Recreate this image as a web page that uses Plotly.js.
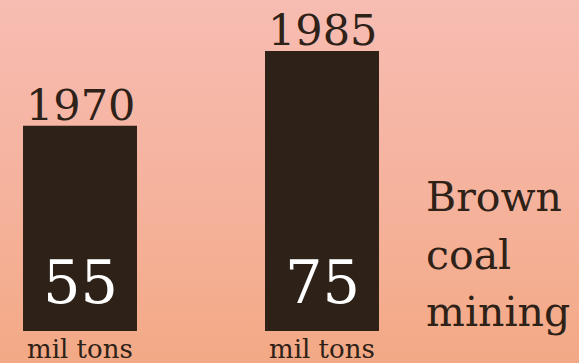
<!DOCTYPE html>
<html>
<head>
<meta charset="utf-8">
<script src="https://cdn.plot.ly/plotly-3.0.1.min.js"></script>
<style>
  html, body { margin: 0; padding: 0; }
  body { width: 579px; height: 363px; overflow: hidden;
         background: linear-gradient(to bottom, #f7bcb2 0%, #f5b29c 55%, #f3a985 100%); }
  #chart { width: 579px; height: 363px; }
</style>
</head>
<body>
<div id="chart"></div>
<script>
const years = ["1970", "1985"];
const values = [55, 75];
const unitLabel = "mil tons";
const sideTitleLines = ["Brown", "coal", "mining"];

const dark = "#2e2117";
const fontFam = "DejaVu Serif, serif";

const trace = {
  type: "bar",
  x: years,
  y: values,
  width: 0.471,
  marker: { color: dark, line: { width: 0 } },
  hoverinfo: "skip"
};

const annotations = [];
years.forEach((yr, i) => {
  annotations.push({ x: i, y: values[i], xref: "x", yref: "y", text: yr, showarrow: false,
    xanchor: "center", yanchor: "bottom", yshift: -6,
    font: { family: fontFam, size: 43, color: dark } });
  annotations.push({ x: i, y: 0, xref: "x", yref: "y", text: String(values[i]), showarrow: false,
    xanchor: "center", yanchor: "bottom", yshift: 12,
    font: { family: fontFam, size: 59, color: "#ffffff" } });
  annotations.push({ x: i, y: 0, xref: "x", yref: "y", text: unitLabel, showarrow: false,
    xanchor: "center", yanchor: "top", yshift: -1,
    font: { family: fontFam, size: 26, color: dark } });
});
const lineTops = [171, 229, 286];
sideTitleLines.forEach((t, k) => {
  annotations.push({ x: 424 / 579, y: 1 - lineTops[k] / 363, xref: "paper", yref: "paper", text: t,
    showarrow: false, xanchor: "left", yanchor: "top", align: "left",
    font: { family: fontFam, size: 41, color: dark } });
});

const layout = {
  width: 579, height: 363,
  margin: { l: 0, r: 0, t: 0, b: 0, pad: 0 },
  paper_bgcolor: "rgba(0,0,0,0)",
  plot_bgcolor: "rgba(0,0,0,0)",
  showlegend: false,
  xaxis: { type: "category", range: [-0.3306, 2.062], visible: false, fixedrange: true },
  yaxis: { range: [-8.57, 88.67], visible: false, fixedrange: true },
  annotations: annotations
};

Plotly.newPlot("chart", [trace], layout, { displayModeBar: false, staticPlot: true });
</script>
</body>
</html>
